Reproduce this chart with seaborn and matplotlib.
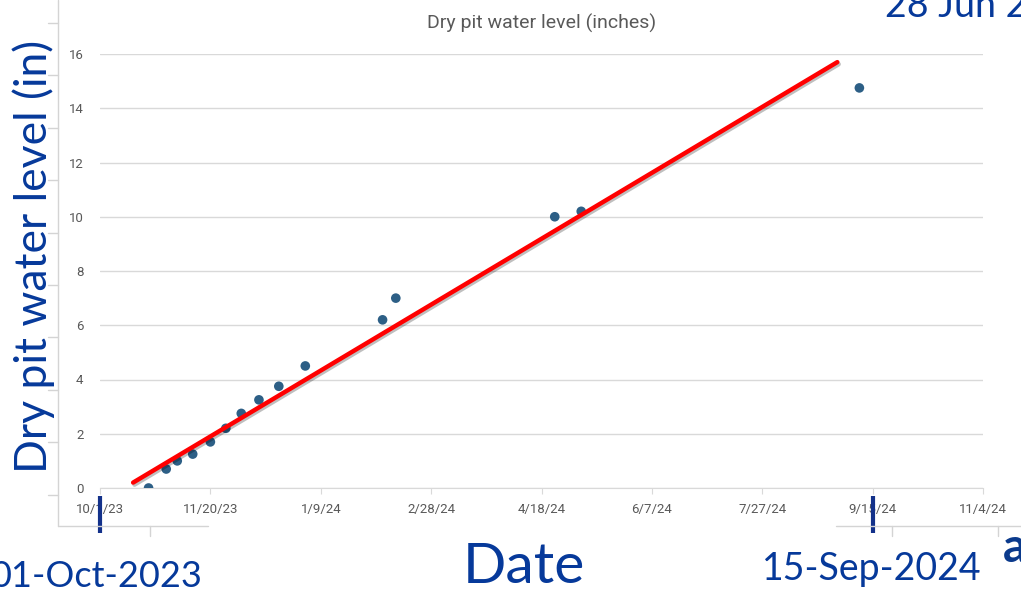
import matplotlib
matplotlib.use("Agg")
import matplotlib.pyplot as plt
import matplotlib.patheffects as pe
from matplotlib.lines import Line2D
import pandas as pd
import seaborn as sns

dates = ["2023-10-23", "2023-10-31", "2023-11-05", "2023-11-12", "2023-11-20",
         "2023-11-27", "2023-12-04", "2023-12-12", "2023-12-21", "2024-01-02",
         "2024-02-06", "2024-02-12", "2024-04-24", "2024-05-06", "2024-09-09"]
levels = [0.0, 0.7, 1.0, 1.25, 1.7, 2.2, 2.75, 3.25, 3.75, 4.5,
          6.2, 7.0, 10.0, 10.2, 14.75]

# hand drawn trend line
trend_dates = ["2023-10-16", "2024-08-30"]
trend_levels = [0.2, 15.7]

tick_start = "2023-10-01"
tick_labels = ["10/1/23", "11/20/23", "1/9/24", "2/28/24", "4/18/24",
               "6/7/24", "7/27/24", "9/15/24", "11/4/24"]
y_ticks = [0, 2, 4, 6, 8, 10, 12, 14, 16]

marker_dates = ["2023-10-01", "2024-09-15"]

df = pd.DataFrame({"date": pd.to_datetime(dates), "level": levels})
trend = pd.DataFrame({"date": pd.to_datetime(trend_dates), "level": trend_levels})

sns.set_style("white")
plt.rcParams["font.family"] = ["Roboto", "DejaVu Sans"]

W, H = 1021, 590
fig = plt.figure(figsize=(W / 100, H / 100), dpi=100)
ax = fig.add_axes([100 / W, 1 - 488 / H, 883 / W, 434 / H])

# faint axes of the slide chart behind
grey = "#d4d4d4"
def px_line(x0, y0, x1, y1, **kw):
    fig.add_artist(Line2D([x0 / W, x1 / W], [1 - y0 / H, 1 - y1 / H],
                          transform=fig.transFigure, color=grey, lw=1, **kw))

px_line(58, 0, 58, 526)
for k in range(10):
    yy = 23 + 52.4 * k
    px_line(48, yy, 58, yy)
px_line(58, 526, 208, 526)
px_line(150, 526, 150, 536)
px_line(836, 526, W, 526)
px_line(892, 526, 892, 536)
px_line(998, 526, 998, 536)

sns.scatterplot(data=df, x="date", y="level", ax=ax, color="#2d5f86",
                s=48, edgecolor="none", zorder=3)
sns.lineplot(data=trend, x="date", y="level", ax=ax, color="#ff0000", lw=3.2,
             zorder=4, path_effects=[pe.SimpleLineShadow(offset=(1, -1.5), alpha=0.25),
                                     pe.Normal()])

tick_pos = pd.date_range(tick_start, periods=len(tick_labels), freq="50D")
ax.set_xlim(tick_pos[0], tick_pos[-1])
ax.set_ylim(0, 16)
ax.set_xticks(tick_pos)
ax.set_xticklabels(tick_labels)
ax.set_yticks(y_ticks)
ax.set_xlabel("")
ax.set_ylabel("")
ax.yaxis.grid(True, color="#d9d9d9", lw=1)
ax.xaxis.grid(False)
for s in ["top", "right", "left"]:
    ax.spines[s].set_visible(False)
ax.spines["bottom"].set_color("#d9d9d9")
ax.tick_params(axis="x", length=4, color="#d9d9d9", labelsize=9.5,
               labelcolor="#595959", pad=7, bottom=True, direction="out")
ax.tick_params(axis="y", length=0, labelsize=9.5, labelcolor="#595959", pad=12)
ax.set_title("Dry pit water level (inches)", color="#595959", fontsize=14, pad=18)

# dark blue date markers
for d in marker_dates:
    dd = pd.Timestamp(d)
    ax.plot([dd, dd], [-0.28, -1.65], color="#13318a", lw=3,
            solid_capstyle="butt", clip_on=False, zorder=5)

blue = "#06399a"
font = ["Lato", "DejaVu Sans"]
fig.text(34 / W, 1 - 256 / H, "Dry pit water level (in)", rotation=90,
         ha="center", va="center", fontsize=32, color=blue, family=font)
fig.text(524 / W, 1 - 583 / H, "Date", ha="center", va="baseline",
         fontsize=41, color=blue, family=font)
fig.text(203 / W, 1 - 587 / H, "01-Oct-2023", ha="right", va="baseline",
         fontsize=26, color=blue, family=font)
fig.text(982 / W, 1 - 580 / H, "15-Sep-2024", ha="right", va="baseline",
         fontsize=27, color=blue, family=font)
fig.text(885 / W, 1 - 17 / H, "28 Jun 2", ha="left", va="baseline",
         fontsize=27, color=blue, family=font)
fig.text(1003 / W, 1 - 562 / H, "a", ha="left", va="baseline",
         fontsize=34, color="#0b3a8c", family=font, weight="bold")

fig.savefig("out.png", dpi=100)
